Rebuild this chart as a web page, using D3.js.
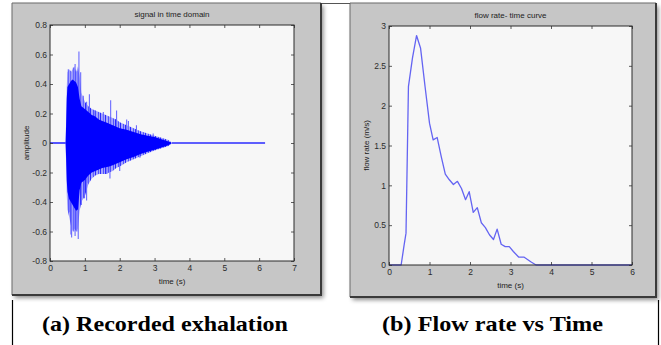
<!DOCTYPE html>
<html><head><meta charset="utf-8">
<script src="https://cdn.jsdelivr.net/npm/d3@7"></script>
<style>body{margin:0;background:#fff;}svg{display:block;}</style>
</head><body>
<svg id="c" width="661" height="345"></svg>
<script>
// ---------------- data ----------------
const sigTitle = "signal in time domain";
const sigXLabel = "time (s)";
const sigYLabel = "amplitude";
const sigXTicks = [0, 1, 2, 3, 4, 5, 6, 7];
const sigYTicks = [-0.8, -0.6, -0.4, -0.2, 0, 0.2, 0.4, 0.6, 0.8];
// flat (silent) parts of the recording: [start, end] in s
const sigFlatStart = [0, 3.5];
const sigFlatEnd = [0.45, 6.17];
// envelope of the dense burst
const envTime   = [0.45, 0.48, 0.5, 0.55, 0.6, 0.65, 0.7, 0.75, 0.8, 0.85, 0.9, 1.0, 1.1, 1.2, 1.3, 1.4, 1.5, 1.6, 1.7, 1.8, 1.9, 2.0, 2.2, 2.4, 2.6, 2.8, 3.0, 3.2, 3.4, 3.5];
const coreHigh  = [0, 0.3, 0.38, 0.4, 0.42, 0.43, 0.42, 0.41, 0.38, 0.3, 0.25, 0.23, 0.21, 0.19, 0.18, 0.16, 0.15, 0.14, 0.13, 0.12, 0.11, 0.1, 0.09, 0.075, 0.06, 0.05, 0.04, 0.025, 0.01, 0];
const coreLow   = [0, -0.25, -0.33, -0.38, -0.4, -0.42, -0.44, -0.46, -0.45, -0.32, -0.27, -0.25, -0.22, -0.2, -0.19, -0.18, -0.17, -0.165, -0.16, -0.15, -0.14, -0.13, -0.11, -0.095, -0.075, -0.06, -0.045, -0.03, -0.015, 0];
const outerHigh = [0, 0.38, 0.48, 0.5, 0.48, 0.5, 0.52, 0.48, 0.52, 0.45, 0.34, 0.28, 0.25, 0.23, 0.22, 0.21, 0.2, 0.19, 0.18, 0.17, 0.16, 0.14, 0.12, 0.1, 0.08, 0.065, 0.05, 0.035, 0.02, 0];
const outerLow  = [0, -0.35, -0.45, -0.5, -0.56, -0.6, -0.58, -0.6, -0.58, -0.46, -0.4, -0.36, -0.28, -0.24, -0.22, -0.21, -0.21, -0.21, -0.2, -0.19, -0.17, -0.16, -0.13, -0.11, -0.09, -0.07, -0.05, -0.035, -0.02, 0];
// individual spikes sticking out of the burst
const upSpikeTime  = [0.525, 0.59, 0.67, 0.72, 0.78, 0.83, 0.88, 0.955, 1.05, 1.13, 1.29, 1.53, 1.74, 1.91, 2.2, 2.25, 2.48, 2.96];
const upSpikeVal   = [0.5, 0.49, 0.51, 0.535, 0.49, 0.62, 0.48, 0.32, 0.28, 0.33, 0.22, 0.21, 0.29, 0.22, 0.16, 0.15, 0.12, 0.065];
const downSpikeTime = [0.55, 0.6, 0.62, 0.68, 0.72, 0.77, 0.81, 0.9, 0.99, 1.05, 1.09, 1.24, 1.63, 1.72, 2.0, 2.58];
const downSpikeVal  = [-0.47, -0.62, -0.64, -0.6, -0.63, -0.6, -0.65, -0.42, -0.375, -0.39, -0.27, -0.22, -0.21, -0.24, -0.19, -0.1];

const flowTitle = "flow rate- time curve";
const flowXLabel = "time (s)";
const flowYLabel = "flow rate (m/s)";
const flowXTicks = [0, 1, 2, 3, 4, 5, 6];
const flowYTicks = [0, 0.5, 1, 1.5, 2, 2.5, 3];
const flowTime = [0, 0.3, 0.37, 0.42, 0.48, 0.58, 0.68, 0.78, 0.89, 1.0, 1.09, 1.19, 1.29, 1.39, 1.49, 1.59, 1.69, 1.79, 1.89, 1.98, 2.08, 2.18, 2.28, 2.38, 2.48, 2.58, 2.67, 2.77, 2.87, 2.97, 3.07, 3.2, 3.33, 3.42, 3.5, 3.63, 6.0];
const flowRate = [0, 0, 0.24, 0.4, 2.24, 2.6, 2.88, 2.72, 2.24, 1.78, 1.57, 1.6, 1.36, 1.14, 1.07, 1.01, 1.05, 0.96, 0.82, 0.92, 0.66, 0.72, 0.53, 0.47, 0.38, 0.32, 0.45, 0.26, 0.23, 0.23, 0.17, 0.1, 0.1, 0.07, 0.04, 0, 0];

const captions = ["(a) Recorded exhalation", "(b) Flow rate vs Time"];

// ---------------- drawing ----------------
const svg = d3.select("#c");
const defs = svg.append("defs");
const sh = defs.append("filter").attr("id", "shadow").attr("x", "-5%").attr("y", "-5%").attr("width", "115%").attr("height", "115%");
sh.append("feDropShadow").attr("dx", 2.5).attr("dy", 3).attr("stdDeviation", 2).attr("flood-color", "#000").attr("flood-opacity", 0.45);
const pat = defs.append("pattern").attr("id", "stripes").attr("width", 5).attr("height", 6).attr("patternUnits", "userSpaceOnUse");
pat.append("rect").attr("width", 5).attr("height", 6).attr("fill", "#a4a4fb");
pat.append("rect").attr("width", 1).attr("height", 6).attr("fill", "#2a2aff");
pat.append("rect").attr("x", 3).attr("width", 1).attr("height", 6).attr("fill", "#5050ff");

const FONT = "'Liberation Sans', Arial, sans-serif";

function panel(o) {
  const g = svg.append("g");
  g.append("rect").attr("x", o.fx).attr("y", o.fy).attr("width", o.fw).attr("height", o.fh)
    .attr("fill", "#c6c6c6").attr("filter", "url(#shadow)");
  g.append("path").attr("d", `M${o.fx},${o.fy + o.fh} V${o.fy} H${o.fx + o.fw}`)
    .attr("fill", "none").attr("stroke", "#6a6a6a").attr("stroke-width", 1);
  g.append("path").attr("d", `M${o.fx + o.fw},${o.fy} V${o.fy + o.fh} H${o.fx}`)
    .attr("fill", "none").attr("stroke", "#3a3a3a").attr("stroke-width", 2);

  const x = d3.scaleLinear().domain(o.xd).range([o.px, o.px + o.pw]);
  const y = d3.scaleLinear().domain(o.yd).range([o.py + o.ph, o.py]);
  g.append("rect").attr("x", o.px).attr("y", o.py).attr("width", o.pw).attr("height", o.ph).attr("fill", "#f7f7f7");

  const plot = g.append("g");
  o.draw(plot, x, y);

  const fmt = d => String(d);
  const styleAx = a => {
    a.select(".domain").remove();
    a.selectAll("line").attr("stroke", "#333").attr("stroke-width", 0.8);
    a.selectAll("text").attr("fill", "#2b2b2b").style("font-family", FONT).style("font-size", "8.5px");
  };
  g.append("g").attr("transform", `translate(${o.px},0)`)
    .call(d3.axisLeft(y).tickValues(o.yt).tickSize(-3).tickPadding(3).tickFormat(fmt)).call(styleAx);
  g.append("g").attr("transform", `translate(${o.px + o.pw},0)`)
    .call(d3.axisRight(y).tickValues(o.yt).tickSize(-3).tickFormat("")).call(styleAx);
  g.append("g").attr("transform", `translate(0,${o.py + o.ph})`)
    .call(d3.axisBottom(x).tickValues(o.xt).tickSize(-3).tickPadding(4).tickFormat(fmt)).call(styleAx);
  g.append("g").attr("transform", `translate(0,${o.py})`)
    .call(d3.axisTop(x).tickValues(o.xt).tickSize(-3).tickFormat("")).call(styleAx);
  g.append("rect").attr("x", o.px).attr("y", o.py).attr("width", o.pw).attr("height", o.ph)
    .attr("fill", "none").attr("stroke", "#2a2a2a").attr("stroke-width", 1);

  g.append("text").attr("x", o.px + o.pw / 2).attr("y", o.py - 8).attr("text-anchor", "middle")
    .attr("fill", "#222").style("font-family", FONT).style("font-size", "8px").text(o.title);
  g.append("text").attr("x", o.px + o.pw / 2).attr("y", o.py + o.ph + 23).attr("text-anchor", "middle")
    .attr("fill", "#222").style("font-family", FONT).style("font-size", "8px").text(o.xl);
  g.append("text").attr("transform", `translate(${o.ylx},${o.py + o.ph / 2}) rotate(-90)`).attr("text-anchor", "middle")
    .attr("fill", "#222").style("font-family", FONT).style("font-size", "8px").text(o.yl);
}

// left: signal in time domain
panel({
  fx: 12, fy: 3, fw: 309, fh: 292,
  px: 50, py: 25, pw: 244, ph: 236,
  xd: [0, 7], yd: [-0.8, 0.8], xt: sigXTicks, yt: sigYTicks,
  title: sigTitle, xl: sigXLabel, yl: sigYLabel, ylx: 29,
  draw: (g, x, y) => {
    const idx = d3.range(envTime.length);
    sigFlatStart.forEach((s, i) => {
      g.append("line").attr("x1", x(s)).attr("x2", x(sigFlatEnd[i])).attr("y1", y(0)).attr("y2", y(0))
        .attr("stroke", "#2b2bff").attr("stroke-width", 1.6);
    });
    g.append("path").datum(idx)
      .attr("d", d3.area().x(i => x(envTime[i])).y0(i => y(outerLow[i])).y1(i => y(outerHigh[i])))
      .attr("fill", "url(#stripes)");
    upSpikeTime.forEach((t, i) => {
      g.append("line").attr("x1", x(t)).attr("x2", x(t)).attr("y1", y(0)).attr("y2", y(upSpikeVal[i]))
        .attr("stroke", "#6a6aff").attr("stroke-width", 1.1);
    });
    downSpikeTime.forEach((t, i) => {
      g.append("line").attr("x1", x(t)).attr("x2", x(t)).attr("y1", y(0)).attr("y2", y(downSpikeVal[i]))
        .attr("stroke", "#6a6aff").attr("stroke-width", 1.1);
    });
    g.append("path").datum(idx)
      .attr("d", d3.area().x(i => x(envTime[i])).y0(i => y(coreLow[i])).y1(i => y(coreHigh[i])))
      .attr("fill", "#0000ff");
  }
});

// right: flow rate - time curve
panel({
  fx: 350, fy: 3, fw: 306, fh: 294,
  px: 389, py: 26, pw: 243, ph: 239,
  xd: [0, 6], yd: [0, 3], xt: flowXTicks, yt: flowYTicks,
  title: flowTitle, xl: flowXLabel, yl: flowYLabel, ylx: 369,
  draw: (g, x, y) => {
    g.append("path").datum(d3.range(flowTime.length))
      .attr("d", d3.line().x(i => x(flowTime[i])).y(i => y(flowRate[i])))
      .attr("fill", "none").attr("stroke", "#6464f2").attr("stroke-width", 1.3).attr("stroke-linejoin", "round");
  }
});

// page decorations
svg.append("line").attr("x1", 322).attr("x2", 350).attr("y1", 3.5).attr("y2", 3.5).attr("stroke", "#555").attr("stroke-width", 1);
svg.append("line").attr("x1", 12.5).attr("x2", 12.5).attr("y1", 300).attr("y2", 345).attr("stroke", "#000").attr("stroke-width", 1.2);
svg.append("line").attr("x1", 658.5).attr("x2", 658.5).attr("y1", 300).attr("y2", 345).attr("stroke", "#000").attr("stroke-width", 1.2);

// captions
const capX = [165, 492.5], capW = [246, 221];
captions.forEach((c, i) => {
  svg.append("text").attr("x", capX[i]).attr("y", 331).attr("text-anchor", "middle")
    .attr("textLength", capW[i]).attr("lengthAdjust", "spacingAndGlyphs")
    .style("font-family", "'Liberation Serif', 'Times New Roman', serif").style("font-weight", "bold")
    .style("font-size", "22px").attr("fill", "#000").text(c);
});
</script>
</body></html>
